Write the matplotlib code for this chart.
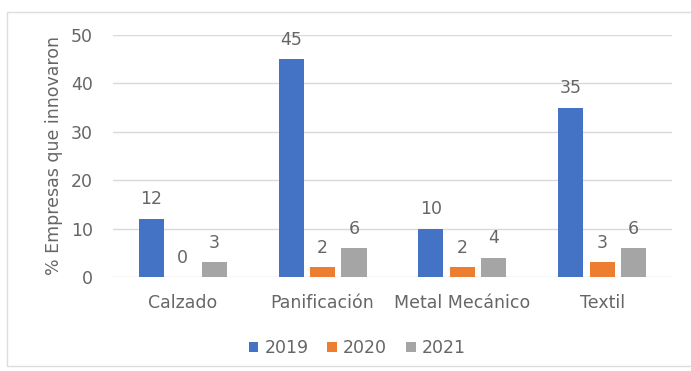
import matplotlib
matplotlib.use("Agg")
import matplotlib.pyplot as plt
import numpy as np
from matplotlib.patches import Rectangle

plt.rcParams['font.family'] = ['DejaVu Sans']

categories = ["Calzado", "Panificación", "Metal Mecánico", "Textil"]
series_names = ["2019", "2020", "2021"]
values_2019 = [12, 45, 10, 35]
values_2020 = [0, 2, 2, 3]
values_2021 = [3, 6, 4, 6]
colors = ["#4472C4", "#ED7D31", "#A5A5A5"]
text_color = "#666666"
fs = 12.5

fig = plt.figure(figsize=(6.91, 3.71), dpi=100)
ax = fig.add_axes([0.1635, 0.2534, 0.809, 0.6523])

# light frame around the chart area (runs past the right edge)
fig.patches.append(Rectangle((7 / 691, 5 / 371), 700 / 691, 354 / 371,
                             transform=fig.transFigure, fill=False,
                             edgecolor="#DDDDDD", linewidth=1.0))

x = np.arange(len(categories))
width = 0.18
step = 0.225
all_values = [values_2019, values_2020, values_2021]
for i, (vals, name, col) in enumerate(zip(all_values, series_names, colors)):
    pos = x + (i - 1) * step
    ax.bar(pos, vals, width, color=col, label=name, zorder=3)
    for xp, v in zip(pos, vals):
        ax.annotate(f"{v}", (xp, v), xytext=(0, 7.5), textcoords="offset points",
                    ha="center", va="bottom", fontsize=fs, color=text_color)

ax.set_xlim(-0.5, 3.5)
ax.set_ylim(0, 50)
ax.set_yticks([0, 10, 20, 30, 40, 50])
ax.set_xticks(x)
ax.set_xticklabels(categories)
ax.tick_params(axis="both", length=0, labelsize=fs, labelcolor=text_color)
ax.tick_params(axis="y", pad=14.4)
ax.tick_params(axis="x", pad=12)
ax.yaxis.grid(True, color="#D9D9D9", linewidth=1.0, zorder=0)
ax.set_axisbelow(True)
for s in ax.spines.values():
    s.set_visible(False)
ax.set_ylabel("% Empresas que innovaron", fontsize=fs, color=text_color, labelpad=6)

leg = fig.legend(loc="center", bbox_to_anchor=(0.517, 1 - 348 / 371), ncol=3,
                 frameon=False, fontsize=fs, handlelength=0.55, handleheight=0.55,
                 handletextpad=0.35, columnspacing=1.1)
for t in leg.get_texts():
    t.set_color(text_color)

fig.savefig("out.png", dpi=100)
